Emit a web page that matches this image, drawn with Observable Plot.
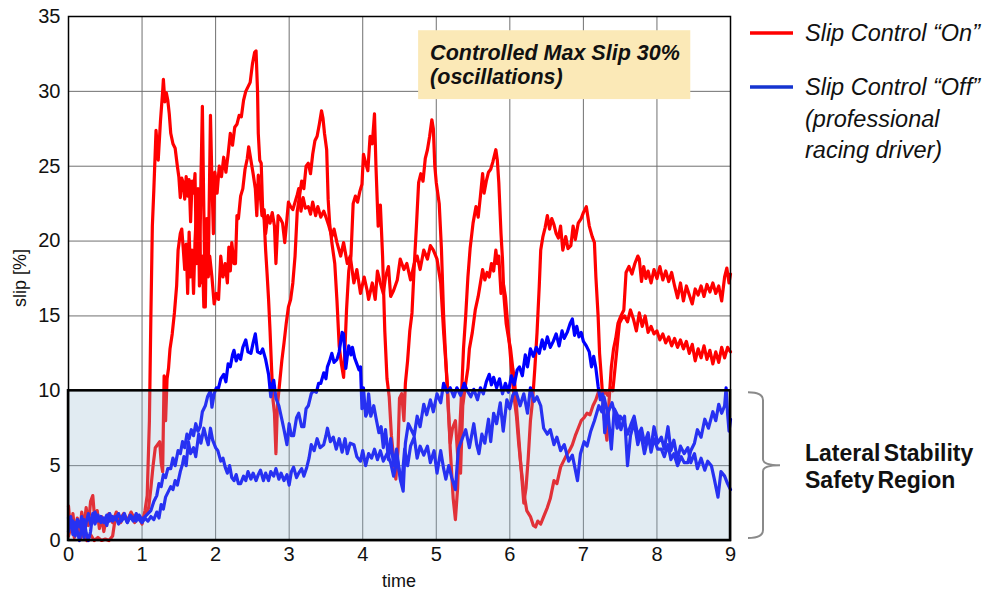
<!DOCTYPE html>
<html>
<head>
<meta charset="utf-8">
<script src="https://cdn.jsdelivr.net/npm/d3@7"></script>
<script src="https://cdn.jsdelivr.net/npm/@observablehq/plot@0.6"></script>
<style>
  html, body { margin: 0; padding: 0; background: #fff; }
  #chart { width: 987px; height: 593px; }
</style>
</head>
<body>
<div id="chart"></div>
<script>
// ---- Data ----
const xTicks = [0, 1, 2, 3, 4, 5, 6, 7, 8, 9];
const yTicks = [0, 5, 10, 15, 20, 25, 30, 35];
const seriesNames = ["Slip Control \u201COn\u201D", "Slip Control \u201COff\u201D"];

// Slip Control "On" – run A  [time, slip %]
const redA = [
[0.00,2.3],[0.03,0.6],[0.06,1.8],[0.09,0.4],[0.12,1.5],[0.15,0.2],[0.18,1.9],[0.21,0.8],[0.24,2.2],[0.27,1.0],
[0.30,2.6],[0.33,3.0],[0.36,1.2],[0.39,2.0],[0.42,0.8],[0.45,1.6],[0.48,0.6],[0.51,1.4],[0.55,1.8],[0.60,1.2],
[0.65,1.9],[0.70,1.4],[0.75,1.8],[0.80,1.3],[0.85,1.9],[0.90,1.4],[0.95,1.6],[1.00,1.1],[1.04,2.0],[1.07,3.0],
[1.10,8.0],[1.12,15],[1.14,21],[1.16,23.4],[1.19,27.4],[1.22,25.4],[1.25,28.0],[1.28,30.0],[1.29,30.8],[1.31,29.3],
[1.33,29.9],[1.35,29.4],[1.37,28.5],[1.39,27.2],[1.42,26.5],[1.45,26.2],[1.48,25.0],[1.50,24.3],[1.52,22.9],[1.54,24.2],
[1.56,23.9],[1.58,22.8],[1.60,24.3],[1.62,23.0],[1.64,24.1],[1.66,21.3],[1.68,24.0],[1.70,23.2],[1.72,24.5],[1.74,18.5],
[1.76,23.5],[1.78,17.0],[1.80,24.0],[1.82,29.0],[1.84,22.0],[1.86,15.6],[1.88,21.5],[1.90,18.0],[1.93,28.4],[1.95,24.0],
[1.97,20.5],[1.99,24.6],[2.02,23.2],[2.05,25.0],[2.08,24.3],[2.11,25.6],[2.14,24.6],[2.17,25.8],[2.20,27.2],[2.23,26.4],
[2.26,27.6],[2.29,27.8],[2.32,28.4],[2.35,28.3],[2.38,29.4],[2.41,30.0],[2.44,30.3],[2.47,30.6],[2.50,31.8],[2.53,32.6],
[2.55,32.7],[2.57,30.0],[2.58,27.2],[2.60,25.4],[2.62,25.2],[2.64,22.0],[2.66,21.4],[2.68,19.4],[2.70,17.8],[2.72,16.1],
[2.74,14.0],[2.76,11.6],[2.78,9.4],[2.80,8.5],[2.82,5.8],[2.84,9.0],[2.87,10.5],[2.90,12.0],[2.93,13.2],[2.96,14.5],
[2.99,15.6],[3.02,16.1],[3.05,17.2],[3.08,19.0],[3.11,22.0],[3.14,23.0],[3.17,24.0],[3.20,23.5],[3.23,25.0],[3.26,25.2],
[3.29,24.5],[3.32,25.8],[3.35,26.7],[3.38,27.0],[3.41,27.8],[3.44,28.7],[3.46,28.2],[3.48,27.2],[3.51,26.1],[3.53,22.8],
[3.55,21.2],[3.58,19.9],[3.62,18.5],[3.65,16.0],[3.68,13.0],[3.71,11.8],[3.74,10.9],[3.76,13.0],[3.78,15.4],[3.81,18.0],
[3.84,19.0],[3.87,22.5],[3.90,23.0],[3.93,22.6],[3.96,23.3],[3.99,23.8],[4.01,25.8],[4.04,25.2],[4.07,24.7],[4.10,27.0],
[4.13,26.5],[4.16,28.5],[4.18,25.0],[4.21,21.0],[4.24,22.4],[4.27,19.0],[4.30,14.0],[4.33,10.8],[4.36,9.6],[4.39,7.0],
[4.42,5.5],[4.45,4.1],[4.48,6.0],[4.50,9.5],[4.53,9.8],[4.56,8.0],[4.58,10.5],[4.61,12.0],[4.64,14.0],[4.67,15.2],
[4.70,18.3],[4.73,21.0],[4.76,23.9],[4.79,24.5],[4.82,24.0],[4.85,25.5],[4.88,26.1],[4.91,27.0],[4.94,28.1],[4.96,27.5],
[4.98,25.0],[5.00,23.9],[5.04,22.5],[5.07,19.5],[5.10,15.0],[5.13,12.0],[5.16,9.0],[5.19,6.5],[5.22,7.5],[5.26,8.0],
[5.30,5.0],[5.33,4.5],[5.36,9.0],[5.40,10.5],[5.43,11.5],[5.45,12.8],[5.49,13.9],[5.53,15.4],[5.57,16.3],[5.60,17.2],
[5.63,18.1],[5.66,17.4],[5.69,17.9],[5.72,17.6],[5.75,18.5],[5.78,18.0],[5.81,19.4],[5.83,18.5],[5.85,19.0],[5.88,16.5],
[5.91,17.2],[5.94,16.3],[5.97,14.5],[6.00,12.8],[6.03,11.0],[6.06,9.5],[6.09,8.3],[6.12,6.5],[6.15,5.0],[6.19,3.2],
[6.23,2.0],[6.28,1.6],[6.32,1.0],[6.35,0.9],[6.38,1.3],[6.42,1.1],[6.46,1.6],[6.51,2.2],[6.55,2.8],[6.60,4.0],
[6.64,3.8],[6.69,4.9],[6.73,5.3],[6.77,5.7],[6.81,6.0],[6.85,6.4],[6.89,7.0],[6.93,7.5],[6.97,8.0],[7.01,8.2],
[7.05,8.5],[7.09,8.4],[7.13,9.0],[7.17,9.4],[7.21,10.0],[7.25,9.6],[7.29,10.0],[7.33,9.7],[7.37,10.2],[7.40,10.0],
[7.43,11.5],[7.46,13.0],[7.49,14.5],[7.52,14.8],[7.56,15.0],[7.60,14.6],[7.64,15.4],[7.68,14.8],[7.72,14.0],[7.76,15.2],
[7.80,14.3],[7.84,15.0],[7.88,13.9],[7.92,14.3],[7.96,13.8],[8.00,14.0],[8.04,13.4],[8.08,13.8],[8.12,13.2],[8.16,13.6],
[8.20,13.0],[8.24,13.5],[8.28,12.9],[8.32,13.4],[8.36,12.8],[8.40,13.3],[8.44,12.5],[8.48,13.1],[8.52,12.0],[8.56,12.8],
[8.60,12.2],[8.64,13.0],[8.68,12.1],[8.72,12.7],[8.76,11.8],[8.80,12.6],[8.84,11.9],[8.88,12.9],[8.92,12.2],[8.96,12.9],
[9.00,12.6]
];

// Slip Control "On" – run B
const redB = [
[0.00,0.3],[0.04,1.0],[0.08,0.2],[0.12,0.8],[0.16,0.1],[0.20,0.5],[0.25,0.0],[0.30,0.4],[0.35,0.0],[0.40,0.2],
[0.45,0.0],[0.50,0.1],[0.55,0.0],[0.60,0.3],[0.63,1.3],[0.67,1.6],[0.71,1.2],[0.75,1.7],[0.80,1.3],[0.85,1.8],
[0.90,1.2],[0.95,1.6],[1.00,1.4],[1.05,1.7],[1.09,2.2],[1.12,3.5],[1.15,5.0],[1.18,6.2],[1.21,6.4],[1.24,6.6],
[1.26,5.2],[1.28,4.6],[1.30,11.0],[1.32,8.0],[1.34,10.8],[1.36,11.5],[1.38,12.8],[1.41,13.8],[1.44,15.2],[1.47,17.0],
[1.49,19.4],[1.52,20.5],[1.54,20.8],[1.56,19.5],[1.58,18.1],[1.60,19.8],[1.62,16.5],[1.64,20.6],[1.66,17.6],[1.68,19.4],
[1.70,16.5],[1.72,20.0],[1.74,22.0],[1.76,19.4],[1.78,21.0],[1.80,17.2],[1.82,19.0],[1.84,15.6],[1.86,19.0],[1.88,21.0],
[1.90,17.6],[1.92,19.0],[1.95,17.6],[1.98,15.8],[2.01,16.5],[2.04,16.1],[2.07,19.0],[2.10,17.6],[2.13,18.5],[2.16,17.2],
[2.18,19.6],[2.20,18.0],[2.22,19.9],[2.25,18.5],[2.27,18.5],[2.29,21.7],[2.31,21.5],[2.34,23.0],[2.37,23.5],[2.40,24.8],
[2.43,25.5],[2.45,26.3],[2.48,25.4],[2.51,24.5],[2.54,23.5],[2.56,21.7],[2.58,24.4],[2.60,23.5],[2.63,21.7],[2.66,22.1],
[2.68,20.5],[2.71,21.7],[2.74,21.2],[2.77,21.9],[2.80,21.0],[2.82,18.5],[2.85,21.7],[2.88,21.5],[2.91,21.2],[2.94,19.9],
[2.97,21.5],[2.99,22.6],[3.02,22.3],[3.05,22.1],[3.08,22.6],[3.11,23.1],[3.13,23.5],[3.16,22.0],[3.19,22.9],[3.22,22.2],
[3.26,22.3],[3.29,21.8],[3.32,22.6],[3.36,21.7],[3.39,22.3],[3.43,21.6],[3.47,22.0],[3.50,21.6],[3.54,21.0],[3.58,20.3],
[3.61,20.8],[3.65,19.9],[3.70,19.0],[3.74,19.9],[3.79,18.5],[3.83,19.0],[3.88,17.2],[3.92,18.1],[3.97,16.5],[4.02,17.6],
[4.06,16.7],[4.08,16.1],[4.13,17.2],[4.17,16.1],[4.20,18.0],[4.24,17.2],[4.28,16.5],[4.31,17.6],[4.35,18.3],[4.38,16.3],
[4.42,16.7],[4.47,17.4],[4.51,18.8],[4.56,18.1],[4.60,18.5],[4.65,17.4],[4.70,18.5],[4.74,19.0],[4.78,18.1],[4.83,19.4],
[4.88,18.8],[4.92,19.7],[4.96,19.4],[5.01,18.8],[5.06,17.2],[5.10,13.9],[5.15,10.5],[5.19,6.1],[5.23,2.8],[5.26,1.4],
[5.29,3.5],[5.32,7.5],[5.35,10.5],[5.37,12.8],[5.40,15.0],[5.43,17.6],[5.46,19.5],[5.50,21.2],[5.54,22.3],[5.57,21.6],
[5.60,23.0],[5.63,24.5],[5.65,23.2],[5.68,24.0],[5.71,24.6],[5.74,24.8],[5.77,25.3],[5.81,26.1],[5.83,25.4],[5.85,23.9],
[5.88,20.5],[5.90,18.8],[5.92,16.3],[5.95,14.5],[5.98,13.6],[6.01,12.8],[6.04,11.5],[6.06,10.9],[6.10,8.3],[6.15,5.0],
[6.19,2.5],[6.22,3.5],[6.25,5.5],[6.28,8.0],[6.31,9.4],[6.34,11.5],[6.37,13.9],[6.40,17.0],[6.42,19.4],[6.45,20.3],
[6.48,20.9],[6.51,21.7],[6.54,20.8],[6.57,21.5],[6.60,21.1],[6.63,20.5],[6.66,20.2],[6.69,21.0],[6.72,19.4],[6.76,20.3],
[6.79,19.5],[6.83,19.7],[6.86,21.0],[6.89,20.1],[6.93,21.2],[6.97,21.5],[7.00,21.9],[7.04,22.3],[7.08,21.0],[7.12,20.3],
[7.15,19.9],[7.17,17.6],[7.20,15.0],[7.22,12.5],[7.25,10.5],[7.28,8.3],[7.32,6.7],[7.35,9.4],[7.38,11.6],[7.41,12.8],
[7.44,13.5],[7.47,14.5],[7.51,15.0],[7.55,15.4],[7.58,17.9],[7.62,18.3],[7.66,17.8],[7.70,18.5],[7.74,19.0],[7.76,18.8],
[7.79,17.3],[7.82,18.3],[7.85,17.5],[7.88,18.0],[7.92,17.2],[7.96,18.1],[8.00,17.5],[8.04,18.3],[8.08,17.4],[8.12,18.0],
[8.16,17.3],[8.20,17.9],[8.24,17.0],[8.28,16.2],[8.32,17.2],[8.36,16.0],[8.40,17.0],[8.44,16.4],[8.48,15.8],[8.52,16.8],
[8.56,16.4],[8.60,17.0],[8.64,16.3],[8.68,17.1],[8.72,16.6],[8.76,17.2],[8.80,16.5],[8.84,17.0],[8.88,16.0],[8.92,17.6],
[8.95,18.2],[8.98,17.2],[9.00,17.8]
];

// Slip Control "Off" – run C
const blueC = [
[0.00,1.5],[0.03,1.0],[0.06,1.3],[0.09,0.3],[0.12,1.4],[0.15,0.9],[0.18,1.6],[0.21,0.2],[0.24,1.2],[0.27,1.8],
[0.30,1.1],[0.33,1.6],[0.36,1.9],[0.40,1.3],[0.44,1.6],[0.48,1.2],[0.52,1.7],[0.56,1.3],[0.60,1.6],[0.64,1.4],
[0.68,1.8],[0.72,1.3],[0.76,1.6],[0.80,1.2],[0.84,1.7],[0.88,1.5],[0.92,1.3],[0.96,1.7],[1.00,1.4],[1.04,1.6],
[1.08,1.8],[1.12,2.0],[1.16,2.6],[1.20,3.0],[1.23,3.8],[1.26,3.6],[1.29,4.4],[1.32,4.2],[1.35,4.8],[1.39,4.8],
[1.42,5.5],[1.45,5.0],[1.49,6.0],[1.52,5.8],[1.55,6.6],[1.58,6.2],[1.61,7.1],[1.64,6.8],[1.67,7.4],[1.70,7.0],
[1.73,7.8],[1.76,7.3],[1.79,7.6],[1.82,8.6],[1.86,9.0],[1.89,9.6],[1.93,10.0],[1.95,8.9],[1.98,9.8],[2.01,10.2],
[2.04,10.2],[2.07,10.8],[2.11,11.1],[2.14,10.6],[2.17,11.8],[2.20,11.6],[2.23,12.4],[2.25,12.7],[2.28,12.0],[2.31,12.4],
[2.34,12.1],[2.37,12.9],[2.41,13.4],[2.44,12.6],[2.48,12.5],[2.51,13.2],[2.54,13.8],[2.57,12.6],[2.61,12.5],[2.64,12.8],
[2.68,12.1],[2.72,11.1],[2.75,9.6],[2.77,10.4],[2.79,10.7],[2.82,9.5],[2.86,9.0],[2.90,8.1],[2.93,7.4],[2.97,6.4],
[3.00,7.8],[3.03,7.0],[3.06,7.0],[3.10,8.2],[3.13,8.5],[3.17,7.6],[3.20,7.6],[3.23,8.8],[3.26,9.0],[3.30,9.8],
[3.33,10.0],[3.37,9.9],[3.40,10.5],[3.43,10.5],[3.47,11.2],[3.50,10.8],[3.52,11.6],[3.55,12.0],[3.58,12.5],[3.61,11.9],
[3.65,12.1],[3.68,12.6],[3.72,13.9],[3.74,13.8],[3.77,11.5],[3.79,12.3],[3.81,13.0],[3.84,12.4],[3.86,12.9],[3.89,12.2],
[3.92,11.8],[3.95,11.4],[3.97,11.6],[3.99,8.8],[4.01,10.2],[4.04,8.3],[4.06,8.5],[4.08,9.8],[4.11,8.3],[4.15,9.0],
[4.18,8.2],[4.22,7.2],[4.25,7.6],[4.28,6.2],[4.31,7.4],[4.35,5.4],[4.38,6.8],[4.42,5.0],[4.46,6.1],[4.51,4.1],
[4.55,3.3],[4.58,6.5],[4.62,7.8],[4.65,7.5],[4.70,7.0],[4.74,8.3],[4.78,7.6],[4.83,9.1],[4.87,8.4],[4.92,9.4],
[4.96,8.6],[5.01,9.8],[5.06,9.2],[5.10,10.5],[5.15,9.9],[5.19,10.2],[5.24,9.6],[5.28,10.2],[5.33,9.7],[5.38,10.5],
[5.42,10.0],[5.47,9.6],[5.51,10.1],[5.56,9.4],[5.60,10.2],[5.64,9.8],[5.68,10.6],[5.72,11.1],[5.75,10.4],[5.78,10.9],
[5.82,10.2],[5.86,10.8],[5.90,9.8],[5.94,10.5],[5.98,9.9],[6.02,11.0],[6.06,10.4],[6.10,11.4],[6.13,11.6],[6.17,11.0],
[6.21,12.4],[6.24,11.6],[6.28,12.8],[6.32,12.3],[6.36,12.9],[6.40,12.5],[6.44,13.4],[6.47,12.8],[6.51,13.6],[6.55,12.9],
[6.59,13.3],[6.63,13.8],[6.67,13.0],[6.71,14.0],[6.74,13.5],[6.78,13.9],[6.82,14.5],[6.85,14.8],[6.88,13.7],[6.91,14.3],
[6.94,13.6],[6.97,13.9],[7.00,13.3],[7.04,13.0],[7.08,12.6],[7.11,11.6],[7.14,12.3],[7.17,11.5],[7.20,10.3],[7.23,9.4],
[7.26,9.8],[7.29,7.2],[7.33,8.8],[7.38,6.1],[7.42,8.8],[7.47,8.3],[7.51,7.4],[7.56,8.3],[7.60,5.0],[7.64,7.0],
[7.69,7.9],[7.74,6.4],[7.78,7.2],[7.83,5.8],[7.88,6.9],[7.92,6.2],[7.96,7.6],[8.01,6.5],[8.06,6.9],[8.10,6.1],
[8.15,7.6],[8.19,6.0],[8.23,6.7],[8.28,5.4],[8.32,6.3],[8.37,5.8],[8.42,6.2],[8.46,5.2],[8.51,5.8],[8.55,4.8],
[8.60,5.5],[8.65,4.7],[8.69,5.3],[8.74,5.0],[8.78,4.1],[8.83,2.9],[8.87,4.6],[8.92,4.3],[8.96,3.8],[9.00,3.4]
];

// Slip Control "Off" – run D
const blueD = [
[0.00,0.6],[0.03,1.6],[0.06,0.4],[0.09,1.2],[0.12,0.6],[0.15,0.0],[0.18,0.9],[0.21,1.4],[0.24,0.5],[0.27,0.0],
[0.30,0.6],[0.33,1.8],[0.36,1.1],[0.40,1.7],[0.44,1.2],[0.48,1.5],[0.52,1.0],[0.56,1.8],[0.60,1.3],[0.64,1.6],
[0.68,1.1],[0.72,1.5],[0.76,1.8],[0.80,1.2],[0.84,1.6],[0.88,1.3],[0.92,1.8],[0.96,1.4],[1.00,1.2],[1.04,1.5],
[1.08,1.3],[1.12,1.6],[1.16,1.4],[1.20,1.9],[1.23,1.5],[1.26,2.4],[1.29,2.1],[1.32,2.9],[1.35,3.2],[1.39,3.6],
[1.42,3.4],[1.45,4.0],[1.48,3.7],[1.52,4.6],[1.55,5.1],[1.57,5.6],[1.60,5.0],[1.63,6.6],[1.66,5.8],[1.70,6.2],
[1.73,5.6],[1.77,7.1],[1.80,6.5],[1.84,7.5],[1.87,6.9],[1.90,6.4],[1.93,7.5],[1.96,6.7],[2.00,6.2],[2.03,6.0],
[2.07,5.3],[2.10,5.5],[2.13,4.9],[2.16,4.5],[2.19,5.0],[2.22,4.2],[2.25,4.0],[2.28,4.4],[2.31,3.8],[2.34,3.8],
[2.38,4.3],[2.41,4.0],[2.44,4.6],[2.48,4.1],[2.51,4.5],[2.55,4.0],[2.58,4.4],[2.61,4.7],[2.65,4.0],[2.68,4.5],
[2.72,4.0],[2.75,4.6],[2.79,4.3],[2.82,4.8],[2.86,4.1],[2.89,4.5],[2.93,4.0],[2.97,4.4],[3.00,3.7],[3.03,4.6],
[3.06,4.9],[3.10,4.2],[3.13,4.5],[3.17,4.8],[3.20,4.3],[3.24,4.9],[3.27,5.5],[3.30,6.4],[3.34,6.0],[3.38,6.8],
[3.42,6.2],[3.47,6.4],[3.50,7.0],[3.52,7.5],[3.56,6.6],[3.60,6.9],[3.64,6.1],[3.68,6.8],[3.72,5.9],[3.76,6.8],
[3.79,5.8],[3.83,6.5],[3.88,6.4],[3.92,5.6],[3.97,5.3],[4.00,6.0],[4.04,5.0],[4.08,5.8],[4.12,5.5],[4.16,6.1],
[4.20,5.4],[4.24,6.0],[4.28,5.3],[4.33,5.8],[4.38,5.2],[4.42,4.3],[4.47,5.4],[4.53,3.8],[4.57,6.1],[4.61,5.0],
[4.65,6.3],[4.70,6.9],[4.74,5.5],[4.78,6.3],[4.83,5.7],[4.88,6.3],[4.92,5.2],[4.97,6.0],[5.01,4.5],[5.06,6.0],
[5.10,4.8],[5.13,4.1],[5.17,5.0],[5.21,4.2],[5.26,3.4],[5.30,6.1],[5.36,6.9],[5.40,7.4],[5.45,6.2],[5.51,7.8],
[5.55,6.4],[5.58,5.8],[5.62,7.1],[5.66,6.5],[5.71,8.1],[5.74,6.6],[5.78,8.5],[5.82,7.8],[5.87,9.2],[5.91,7.3],
[5.96,9.4],[6.00,8.8],[6.04,9.7],[6.08,10.0],[6.14,9.0],[6.19,9.8],[6.24,8.5],[6.28,10.2],[6.33,9.3],[6.37,9.6],
[6.42,9.0],[6.46,7.5],[6.51,7.1],[6.55,7.4],[6.60,6.4],[6.64,6.9],[6.69,6.0],[6.74,6.4],[6.80,5.3],[6.85,5.7],
[6.92,4.0],[6.96,5.8],[7.01,6.6],[7.05,6.3],[7.10,7.3],[7.15,8.0],[7.21,9.0],[7.25,8.6],[7.28,9.6],[7.33,8.5],
[7.39,9.2],[7.43,8.4],[7.46,7.5],[7.50,8.3],[7.55,8.0],[7.60,7.1],[7.65,7.8],[7.69,8.3],[7.74,7.0],[7.79,7.5],
[7.83,6.5],[7.88,7.2],[7.92,5.9],[7.96,6.8],[8.01,6.1],[8.06,6.1],[8.10,5.6],[8.15,6.4],[8.19,5.4],[8.23,5.8],
[8.28,5.0],[8.33,5.6],[8.37,5.2],[8.42,5.2],[8.46,6.0],[8.51,6.5],[8.55,7.4],[8.60,6.9],[8.65,8.1],[8.70,7.5],
[8.76,8.6],[8.80,8.0],[8.84,9.1],[8.88,8.5],[8.92,9.0],[8.94,10.2],[8.96,8.5],[8.98,7.3],[9.00,8.1]
];

// Safety region (slip 0–10 %, whole time span) and annotation box
const safetyRegion = [{x1: 0, x2: 9, y1: 0, y2: 10}];
const noteBox = [{x1: 4.76, x2: 8.46, y1: 29.45, y2: 34.05}];
const noteLines = ["Controlled Max Slip 30%", "(oscillations)"];
const regionLabel = ["Lateral Stability", "Safety Region"];
const offLegendExtra = ["(professional", "racing driver)"];

const RED = "#ff0000", BLUE = "#0000ff";
const FONT = "'Liberation Sans', Arial, sans-serif";

const toObj = (arr) => arr.map(([t, v]) => ({t, v}));

const chart = Plot.plot({
  width: 987,
  height: 593,
  marginLeft: 68,
  marginRight: 257,
  marginTop: 16,
  marginBottom: 53,
  style: {fontFamily: FONT, fontSize: "20px", background: "#fff", color: "#111", overflow: "visible"},
  x: {domain: [0, 9], label: null},
  y: {domain: [0, 35], label: null},
  marks: [
    Plot.gridX(xTicks, {stroke: "#707070", strokeOpacity: 1, strokeWidth: 1}),
    Plot.gridY(yTicks, {stroke: "#707070", strokeOpacity: 1, strokeWidth: 1}),
    Plot.rect(noteBox, {x1: "x1", x2: "x2", y1: "y1", y2: "y2", fill: "#fbe9b7"}),
    Plot.lineY(toObj(redB), {x: "t", y: "v", stroke: RED, strokeWidth: 3.2, curve: "linear"}),
    Plot.lineY(toObj(redA), {x: "t", y: "v", stroke: RED, strokeWidth: 3.2, curve: "linear"}),
    Plot.lineY(toObj(blueD), {x: "t", y: "v", stroke: BLUE, strokeWidth: 3.2, curve: "linear"}),
    Plot.lineY(toObj(blueC), {x: "t", y: "v", stroke: BLUE, strokeWidth: 3.2, curve: "linear"}),
    Plot.rect(safetyRegion, {x1: "x1", x2: "x2", y1: "y1", y2: "y2", fill: "rgb(144,181,207)", fillOpacity: 0.27}),
    Plot.rect(safetyRegion, {x1: "x1", x2: "x2", y1: "y1", y2: "y2", fill: "none", stroke: "#000", strokeWidth: 2.5}),
    Plot.frame({stroke: "#000", strokeWidth: 1.5}),
    Plot.axisX(xTicks, {tickSize: 0, tickPadding: 6, fontSize: 20, label: null}),
    Plot.axisY(yTicks, {tickSize: 0, tickPadding: 8, fontSize: 20, label: null})
  ]
});

document.getElementById("chart").appendChild(chart);

// ---- annotations, legend, axis titles ----
const svg = d3.select(chart);
const xs = chart.scale("x"), ys = chart.scale("y");
const X = (v) => xs.apply(v), Y = (v) => ys.apply(v);

// note box text
const nb = noteBox[0];
const noteG = svg.append("g").attr("font-family", FONT).attr("font-size", 21.5).attr("text-anchor", "start")
  .attr("font-weight", "bold").attr("font-style", "italic").attr("fill", "#111");
noteLines.forEach((s, i) => {
  noteG.append("text").attr("x", X(nb.x1) + 12).attr("y", 60 + i * 24).text(s);
});

// axis titles
svg.append("text").attr("x", (X(0) + X(9)) / 2).attr("y", 587).attr("text-anchor", "middle")
  .attr("font-family", FONT).attr("font-size", 18).attr("fill", "#111").text("time");
svg.append("text").attr("transform", `translate(26,${(Y(0) + Y(35)) / 2}) rotate(-90)`)
  .attr("text-anchor", "middle").attr("font-family", FONT).attr("font-size", 18).attr("fill", "#111").text("slip [%]");

// legend
const lg = svg.append("g").attr("font-family", FONT).attr("font-size", 23.5).attr("font-style", "italic")
  .attr("text-anchor", "start").attr("fill", "#111");
lg.append("line").attr("x1", 750).attr("x2", 793).attr("y1", 33).attr("y2", 33).attr("stroke", RED).attr("stroke-width", 3.5);
lg.append("text").attr("x", 805).attr("y", 41).text(seriesNames[0]);
lg.append("line").attr("x1", 750).attr("x2", 793).attr("y1", 87).attr("y2", 87).attr("stroke", "#1534d0").attr("stroke-width", 3.5);
lg.append("text").attr("x", 805).attr("y", 95).text(seriesNames[1]);
offLegendExtra.forEach((s, i) => lg.append("text").attr("x", 805).attr("y", 127 + i * 31).text(s));

// curly bracket for safety region
const bTop = Y(10) + 2, bBot = Y(0) - 2, bMid = Y(5);
const bx0 = 748, bx = 763, bxp = 780;
const bracePath = `M${bx0},${bTop} Q${bx},${bTop} ${bx},${bTop + 8} L${bx},${bMid - 6} Q${bx},${bMid} ${bxp},${bMid}` +
  ` Q${bx},${bMid} ${bx},${bMid + 6} L${bx},${bBot - 8} Q${bx},${bBot} ${bx0},${bBot}`;
svg.append("path").attr("d", bracePath).attr("fill", "none").attr("stroke", "#8a8a8a").attr("stroke-width", 2);

const rg = svg.append("g").attr("font-family", FONT).attr("font-size", 23).attr("font-weight", "bold")
  .attr("text-anchor", "start").attr("fill", "#111").attr("word-spacing", "-3");
regionLabel.forEach((s, i) => rg.append("text").attr("x", 805).attr("y", 461 + i * 27).text(s));
</script>
</body>
</html>
